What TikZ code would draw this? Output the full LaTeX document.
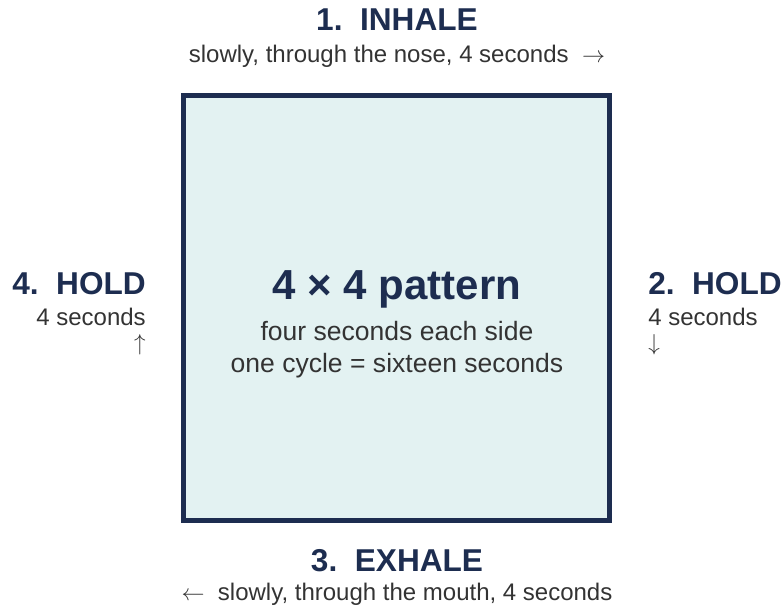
\documentclass[tikz,border=0pt]{standalone}
\usepackage{fontspec}
\setmainfont{Liberation Sans}
\definecolor{navy}{HTML}{1D2D50}
\definecolor{boxfill}{HTML}{E3F2F2}
\definecolor{txt}{HTML}{333333}
\begin{document}
\begin{tikzpicture}[x=0.75pt,y=-0.75pt,
  head/.style={font=\fontsize{23.7}{28}\selectfont\bfseries,text=navy,inner sep=0pt,anchor=base},
  sub/.style={font=\fontsize{18}{21}\selectfont,text=txt,inner sep=0pt,anchor=base},
  side/.style={font=\fontsize{18}{19}\selectfont,text=txt,inner sep=0pt},
  big/.style={font=\fontsize{31.5}{36}\selectfont\bfseries,text=navy,inner sep=0pt,anchor=base},
  body/.style={font=\fontsize{19.9}{24}\selectfont,text=txt,inner sep=0pt,anchor=base}]
\useasboundingbox (0,0) rectangle (783,608);
\draw[draw=navy,fill=boxfill,line width=3.75pt] (183.5,95.5) rectangle (609.5,520.5);
\node[head] (inhale) at (397,30) {1.\ \ INHALE};
\node[sub] (inhalesub) at (397,62) {slowly, through the nose, 4 seconds \ $\rightarrow$};
\node[head] (exhale) at (397,571) {3.\ \ EXHALE};
\node[sub] (exhalesub) at (397,600) {$\leftarrow$\ \ slowly, through the mouth, 4 seconds};
\node[big] (pattern) at (397,299) {4 × 4 pattern};
\node[body] (l1) at (397,340) {four seconds each side};
\node[body] (l2) at (397,372) {one cycle = sixteen seconds};
\node[head,anchor=base east] (hold4) at (146,294) {4.\ \ HOLD};
\node[side,anchor=north east,align=right] (hold4s) at (146,307.5) {4 seconds\\$\uparrow$};
\node[head,anchor=base west] (hold2) at (648,294) {2.\ \ HOLD};
\node[side,anchor=north west,align=left] (hold2s) at (648,307.5) {4 seconds\\$\downarrow$};
\end{tikzpicture}
\end{document}
